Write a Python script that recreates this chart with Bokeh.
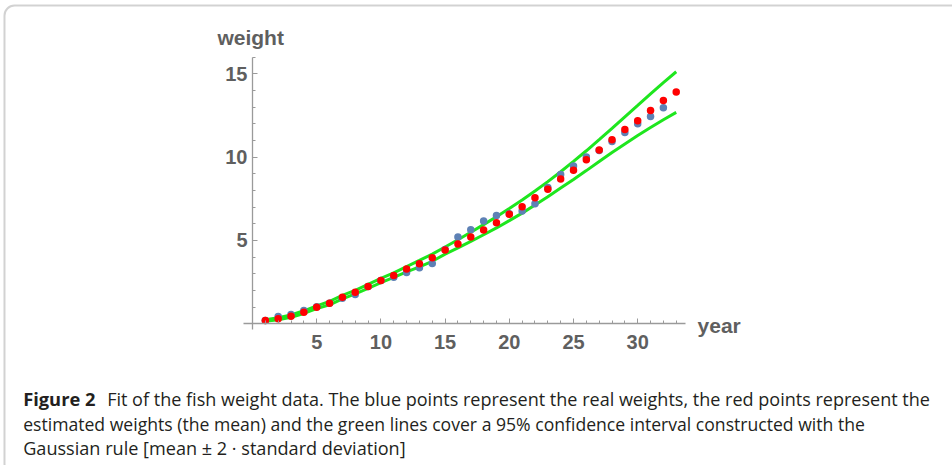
from bokeh.plotting import figure
from bokeh.models import FixedTicker, Label, BoxAnnotation, Range1d
from bokeh.embed import file_html
from bokeh.resources import INLINE

# ---- data ----
years_real = list(range(1, 33))
weight_real = [0.20, 0.44, 0.56, 0.80, 1.03, 1.24, 1.54, 1.76, 2.24, 2.60,
               2.80, 3.08, 3.36, 3.62, 4.46, 5.20, 5.64, 6.16, 6.50, 6.60,
               6.76, 7.20, 8.18, 8.96, 9.46, 10.00, 10.40, 10.94, 11.48, 12.00,
               12.44, 12.96]

years_est = list(range(1, 34))
weight_est = [0.20, 0.30, 0.46, 0.70, 1.00, 1.24, 1.60, 1.90, 2.24, 2.60,
              2.90, 3.28, 3.60, 3.96, 4.42, 4.78, 5.20, 5.62, 6.06, 6.57,
              7.02, 7.56, 8.07, 8.68, 9.21, 9.84, 10.42, 11.04, 11.66, 12.18,
              12.80, 13.40, 13.90]

upper = [0.25, 0.36, 0.53, 0.78, 1.08, 1.35, 1.70, 2.01, 2.36, 2.72,
         3.06, 3.43, 3.80, 4.18, 4.61, 5.04, 5.49, 5.95, 6.42, 6.92,
         7.43, 7.97, 8.53, 9.12, 9.74, 10.38, 11.05, 11.73, 12.42, 13.10,
         13.79, 14.47, 15.12]
lower = [0.15, 0.24, 0.39, 0.62, 0.91, 1.14, 1.49, 1.79, 2.12, 2.47,
         2.78, 3.11, 3.42, 3.75, 4.18, 4.55, 4.94, 5.34, 5.75, 6.19,
         6.64, 7.13, 7.62, 8.14, 8.66, 9.19, 9.73, 10.27, 10.79, 11.29,
         11.77, 12.24, 12.68]

x_major = [5, 10, 15, 20, 25, 30]
x_minor = list(range(1, 34))
y_major = [5, 10, 15]
y_minor = list(range(1, 17))

caption_bold = "Figure 2"
caption_line1 = "Fit of the fish weight data. The blue points represent the real weights, the red points represent the"
caption_line2 = "estimated weights (the mean) and the green lines cover a 95% confidence interval constructed with the"
caption_line3 = "Gaussian rule [mean \u00b1 2 \u00b7 standard deviation]"

# ---- figure: the frame fills the canvas, axes cross at the origin ----
p = figure(width=952, height=465, output_backend="svg", toolbar_location=None,
           x_range=Range1d(-19.626, 54.517), y_range=Range1d(-8.50, 19.394),
           min_border=0, min_border_left=0, min_border_right=0,
           min_border_top=0, min_border_bottom=0)
p.grid.visible = False
p.outline_line_color = None
p.background_fill_color = "white"
p.border_fill_color = "white"

axis_col = "#9a9a9a"
lab_col = "#5f5f5f"
for ax, maj, mnr in ((p.xaxis[0], x_major, x_minor), (p.yaxis[0], y_major, y_minor)):
    ax.fixed_location = 0
    ax.ticker = FixedTicker(ticks=maj, minor_ticks=mnr)
    ax.axis_line_color = axis_col
    ax.axis_line_width = 1.3
    ax.major_tick_line_color = axis_col
    ax.minor_tick_line_color = axis_col
    ax.major_tick_in = 5
    ax.major_tick_out = 0
    ax.minor_tick_in = 3
    ax.minor_tick_out = 0
    ax.major_label_text_font = "Liberation Sans"
    ax.major_label_text_font_style = "bold"
    ax.major_label_text_font_size = "20px"
    ax.major_label_text_color = lab_col
p.xaxis[0].bounds = (-0.7, 33.72)
p.yaxis[0].bounds = (-0.35, 16.0)
p.xaxis[0].major_label_standoff = 11
p.yaxis[0].major_label_standoff = 5

# confidence lines
p.line(years_est, upper, line_color="#1ee61e", line_width=3)
p.line(years_est, lower, line_color="#1ee61e", line_width=3)
# real and estimated points
p.scatter(years_real, weight_real, size=7.5, fill_color="#5e81b5", line_color=None)
p.scatter(years_est, weight_est, size=7.5, fill_color="#ff0000", line_color=None)

# axis titles
p.add_layout(Label(x=-2.73, y=17.17, text="weight", text_baseline="middle",
                   text_font="Liberation Sans", text_font_style="bold",
                   text_font_size="21px", text_color=lab_col))
p.add_layout(Label(x=34.66, y=-0.1, text="year", text_baseline="middle",
                   text_font="Liberation Sans", text_font_style="bold",
                   text_font_size="21px", text_color=lab_col))

# caption
cap_col = "#231f20"
cap_font = "Open Sans"
p.add_layout(Label(x=-17.86, y=-4.50, text=caption_bold, text_baseline="alphabetic",
                   text_font=cap_font, text_font_style="bold",
                   text_font_size="18.3px", text_color=cap_col))
p.add_layout(Label(x=-11.32, y=-4.50, text=caption_line1, text_baseline="alphabetic",
                   text_font=cap_font, text_font_size="18.05px", text_color=cap_col))
p.add_layout(Label(x=-17.86, y=-6.00, text=caption_line2, text_baseline="alphabetic",
                   text_font=cap_font, text_font_size="17.6px", text_color=cap_col))
p.add_layout(Label(x=-17.86, y=-7.46, text=caption_line3, text_baseline="alphabetic",
                   text_font=cap_font, text_font_size="18.1px", text_color=cap_col))

# outer frame
p.add_layout(BoxAnnotation(left=-19.315, right=60, top=19.094, bottom=-9,
                           fill_color=None, fill_alpha=0,
                           line_color="#6a6a6a", line_width=2, border_radius=10))

open("out.html", "w").write(file_html(p, INLINE))
